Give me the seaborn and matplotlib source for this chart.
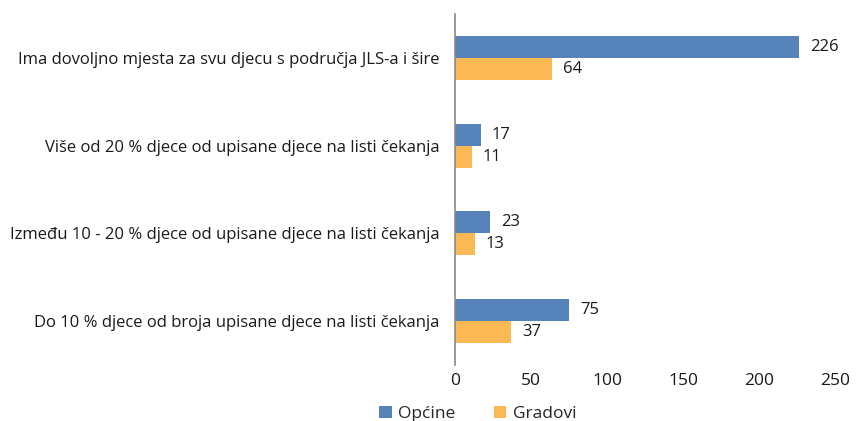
import matplotlib
matplotlib.use("Agg")
import matplotlib.pyplot as plt
import pandas as pd
import seaborn as sns

# data
categories = [
    "Ima dovoljno mjesta za svu djecu s područja JLS-a i šire",
    "Više od 20 % djece od upisane djece na listi čekanja",
    "Između 10 - 20 % djece od upisane djece na listi čekanja",
    "Do 10 % djece od broja upisane djece na listi čekanja",
]
opcine = [226, 17, 23, 75]
gradovi = [64, 11, 13, 37]
series_names = ["Općine", "Gradovi"]
x_ticks = [0, 50, 100, 150, 200, 250]

colours = ["#5683BA", "#FBB955"]

df = pd.DataFrame({
    "Kategorija": categories * 2,
    "Vrijednost": opcine + gradovi,
    "Skupina": [series_names[0]] * len(categories) + [series_names[1]] * len(categories),
})

sns.set_theme(style="white")
plt.rcParams["font.family"] = ["Open Sans", "DejaVu Sans"]

fig = plt.figure(figsize=(8.61, 4.21), dpi=100)
ax = fig.add_axes([455 / 861, 1 - 365 / 421, 380 / 861, 351 / 421])

sns.barplot(data=df, x="Vrijednost", y="Kategorija", hue="Skupina",
            palette=colours, orient="h", width=0.5, dodge=True,
            saturation=1, linewidth=0, ax=ax, legend=True)

for cont in ax.containers:
    ax.bar_label(cont, padding=8, fontsize=12, color="#1a1a1a")

ax.set_xlim(0, 250)
ax.set_xticks(x_ticks)
ax.set_xlabel("")
ax.set_ylabel("")
ax.tick_params(axis="x", labelsize=12.5, colors="#1a1a1a", length=0, pad=6)
ax.tick_params(axis="y", labelsize=12, colors="#1a1a1a", length=0, pad=11)

for side in ["top", "right", "bottom"]:
    ax.spines[side].set_visible(False)
ax.spines["left"].set_color("#888888")
ax.spines["left"].set_linewidth(1.2)

handles, labels = ax.get_legend_handles_labels()
ax.get_legend().remove()
fig.legend(handles, labels, loc="center", bbox_to_anchor=(478 / 861, 1 - 414 / 421),
           ncol=2, frameon=False, fontsize=12.5, handlelength=0.7, handleheight=0.7,
           columnspacing=2.2, handletextpad=0.4)

fig.savefig("out.png", dpi=100)
